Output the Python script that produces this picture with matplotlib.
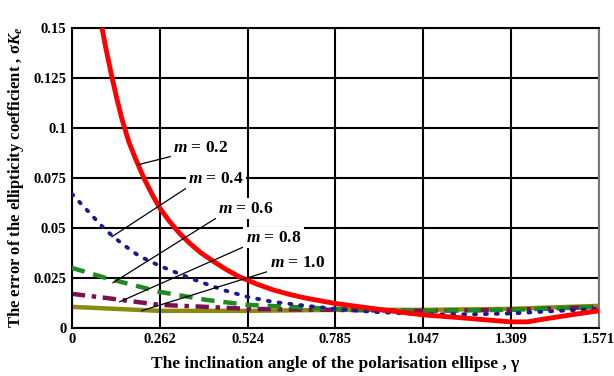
import matplotlib.pyplot as plt

plt.rcParams['font.family'] = 'Liberation Serif'
plt.rcParams['font.weight'] = 'bold'
plt.rcParams['mathtext.fontset'] = 'custom'
plt.rcParams['mathtext.it'] = 'Liberation Serif:italic:bold'
plt.rcParams['mathtext.rm'] = 'Liberation Serif:bold'

# ---- data ----
x_m02 = [0.09, 0.10, 0.11, 0.12, 0.135, 0.15, 0.17, 0.19, 0.216, 0.24, 0.262, 0.29,
         0.32, 0.35, 0.385, 0.42, 0.46, 0.5, 0.55, 0.6, 0.65, 0.7, 0.785, 0.87, 0.95,
         1.047, 1.15, 1.25, 1.309, 1.36, 1.4, 1.45, 1.5, 1.571]
y_m02 = [0.150, 0.141, 0.133, 0.125, 0.114, 0.104, 0.093, 0.0845, 0.0745, 0.0665,
         0.060, 0.0535, 0.0475, 0.0425, 0.0375, 0.0335, 0.0292, 0.0255, 0.022, 0.019,
         0.0167, 0.0148, 0.0122, 0.0103, 0.0085, 0.0065, 0.0052, 0.0038, 0.003, 0.003,
         0.0042, 0.0055, 0.0068, 0.0085]

x_m04 = [0.0, 0.05, 0.1, 0.15, 0.2, 0.262, 0.35, 0.45, 0.524, 0.6, 0.7, 0.785, 0.9,
         1.047, 1.2, 1.309, 1.45, 1.571]
y_m04 = [0.067, 0.058, 0.049, 0.042, 0.036, 0.031, 0.025, 0.019, 0.0155, 0.013, 0.011,
         0.0095, 0.008, 0.0068, 0.0068, 0.0072, 0.0085, 0.0095]

x_m06 = [0.0, 0.1, 0.262, 0.4, 0.524, 0.65, 0.785, 1.047, 1.309, 1.571]
y_m06 = [0.030, 0.025, 0.018, 0.014, 0.0115, 0.0105, 0.0095, 0.0085, 0.009, 0.0105]

x_m08 = [0.0, 0.1, 0.262, 0.4, 0.524, 0.785, 1.047, 1.309, 1.571]
y_m08 = [0.017, 0.015, 0.0115, 0.0105, 0.0095, 0.009, 0.0085, 0.009, 0.0105]

x_m10 = [0.0, 0.262, 0.524, 0.785, 1.047, 1.309, 1.571]
y_m10 = [0.0105, 0.0085, 0.0085, 0.009, 0.009, 0.0095, 0.011]

xticks = [0, 0.262, 0.524, 0.785, 1.047, 1.309, 1.571]
xtick_labels = ["0", "0.262", "0.524", "0.785", "1.047", "1.309", "1.571"]
yticks = [0, 0.025, 0.05, 0.075, 0.1, 0.125, 0.15]
ytick_labels = ["0", "0.025", "0.05", "0.075", "0.1", "0.125", "0.15"]

labels = ["0.2", "0.4", "0.6", "0.8", "1.0"]

fig = plt.figure(figsize=(6.14, 3.76), dpi=100)
ax = fig.add_axes([0.117, 0.128, 0.858, 0.798])

ax.plot(x_m02, y_m02, color='#ff0000', lw=3.5, zorder=5)
ax.plot(x_m04, y_m04, color='#1a1a8c', lw=2.8, linestyle=(0, (0.5, 2.3)),
        dash_capstyle='round', zorder=4)
ax.plot(x_m06, y_m06, color='#1f8a1f', lw=3.2, linestyle=(0, (3, 2)), zorder=3)
ax.plot(x_m08, y_m08, color='#7a1050', lw=3.2, linestyle=(0, (3, 1.5, 1, 1.5)), zorder=2)
ax.plot(x_m10, y_m10, color='#8a8a10', lw=3.2, zorder=1)

ax.set_xlim(0, 1.571)
ax.set_ylim(0, 0.15)
ax.set_xticks(xticks)
ax.set_xticklabels(xtick_labels, fontsize=10.5, fontweight='bold')
ax.set_yticks(yticks)
ax.set_yticklabels(ytick_labels, fontsize=10.5, fontweight='bold')
ax.tick_params(length=0, pad=4)
ax.grid(True, color='black', lw=1.5, zorder=0)
for s in ax.spines.values():
    s.set_linewidth(1.5)
ax.spines['right'].set_color('#777777')

ax.set_xlabel("The inclination angle of the polarisation ellipse , γ",
              fontsize=12.5, fontweight='bold', labelpad=7)
ax.set_ylabel(r"The error of the ellipticity coefficient , σ$K_e$",
              fontsize=12, fontweight='bold', labelpad=5)

# ---- curve labels with leader lines ----
text_pos = [(0.385, 0.090), (0.430, 0.0745), (0.519, 0.0595), (0.602, 0.045), (0.673, 0.0325)]
point_pos = [(0.196, 0.0815), (0.119, 0.0455), (0.122, 0.0225), (0.142, 0.013), (0.207, 0.0085)]
for lab, tp, pp in zip(labels, text_pos, point_pos):
    ax.annotate(r"$m$ = " + lab, xy=pp, xytext=tp, textcoords='data',
                ha='center', va='center', fontsize=12.5, fontweight='bold',
                bbox=dict(boxstyle='square,pad=0.15', fc='white', ec='none'),
                arrowprops=dict(arrowstyle='-', color='black', lw=0.9,
                                relpos=(0, 0), shrinkA=0, shrinkB=0),
                zorder=6)

fig.savefig("out.png", dpi=100)
